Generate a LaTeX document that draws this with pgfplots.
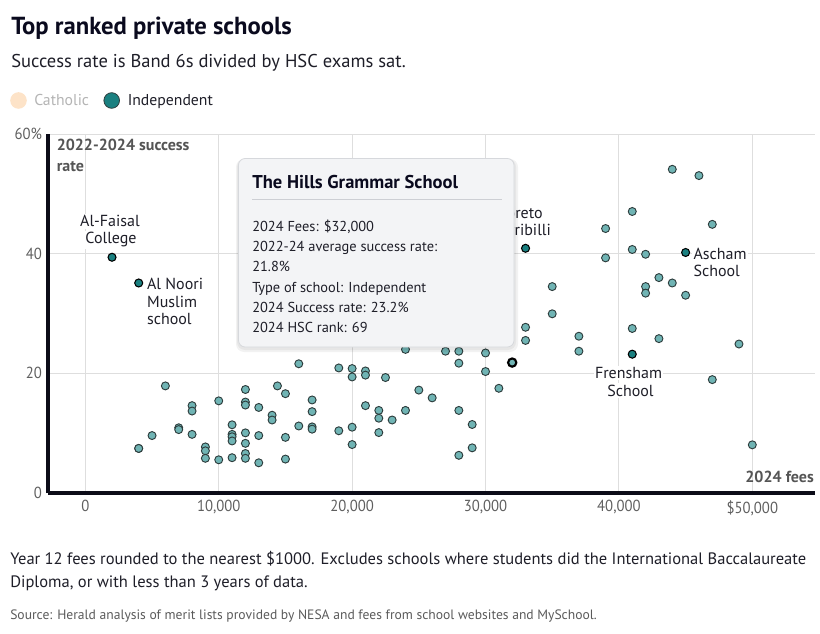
\documentclass[border=0pt]{standalone}
\usepackage{pgfplots}
\pgfplotsset{compat=1.18}
\usepackage{fontspec}
\setmainfont{PT Sans}
\newfontfamily\narrow[FakeStretch=0.92]{PT Sans}
\definecolor{ptfill}{RGB}{112,180,180}
\definecolor{ptedge}{RGB}{45,60,60}
\definecolor{namedfill}{RGB}{26,128,128}
\definecolor{gridc}{RGB}{222,222,222}
\definecolor{axisc}{RGB}{12,12,24}
\definecolor{tickc}{RGB}{85,85,85}
\definecolor{ticklab}{RGB}{95,95,95}
\definecolor{titlec}{RGB}{10,10,30}
\definecolor{peach}{RGB}{253,227,200}
\definecolor{tipfill}{RGB}{243,244,246}
\definecolor{tipedge}{RGB}{214,216,220}
\definecolor{textc}{RGB}{30,30,40}
\newcommand\fs[2]{\fontsize{#1}{#2}\selectfont}

\pgfplotstableread{
x y
6000 17.9
10000 15.4
12000 17.3
12000 15.2
12000 14.7
13000 14.3
14400 17.9
15000 16.6
8000 14.6
8000 13.7
14000 13.0
14000 12.2
11000 11.4
11000 9.8
11000 9.4
11000 8.7
7000 10.9
7000 10.6
8000 9.8
5000 9.6
4000 7.45
4000 7.45
9000 7.7
9000 7.05
9000 5.8
10000 5.55
11000 5.9
12000 10.05
12000 8.3
12000 6.6
12000 5.8
13000 9.6
13000 5.05
15000 9.3
15000 5.67
16000 21.6
17000 15.55
17000 13.6
16000 11.2
17000 11.05
17000 10.67
19000 20.9
20000 20.8
20000 19.4
21000 20.4
21000 19.7
22500 19.3
19000 10.4
20000 11.0
20000 8.1
21000 14.6
22000 13.8
22000 12.5
22000 10.1
23000 12.2
24000 13.8
24000 24.0
25000 17.2
26000 15.9
27000 23.7
28000 23.7
28000 21.7
28000 13.8
28000 6.3
29000 11.45
29000 7.55
30000 23.4
30000 20.3
31000 17.5
33000 27.7
33000 25.5
39000 44.2
39000 39.3
41000 47.05
41000 40.7
42000 39.9
44000 54.1
46000 53.05
47000 44.9
43000 36.0
44000 35.1
42000 34.5
42000 33.4
45000 33.05
35000 34.5
35000 29.95
41000 27.5
37000 26.2
37000 23.7
43000 25.8
49000 24.9
47000 18.95
50000 8.05
}\indep

\pgfplotstableread{
x y
2000 39.4
4000 35.1
33000 40.9
45000 40.2
41000 23.2
}\named

\pgfplotstableread{
x y
32000 21.8
}\hills

\begin{document}
\begin{tikzpicture}
\begin{scope}[x=0.75pt,y=-0.75pt]
\useasboundingbox (0,0) rectangle (820,634);
% title block
\node[anchor=base west,inner sep=0,text=titlec] at (11,35) {\fs{18.5}{22}\bfseries Top ranked private schools};
\node[anchor=base west,inner sep=0,text=textc] at (11,68) {\fs{13.9}{16}Success rate is Band 6s divided by HSC exams sat.};
\fill[peach] (18.5,100.5) circle (8.3);
\node[anchor=base west,inner sep=0,text={rgb,255:red,180;green,180;blue,180}] at (34,106) {\fs{11.8}{14}Catholic};
\filldraw[fill=namedfill,draw=ptedge,line width=0.6pt] (111.7,100.5) circle (7.8);
\node[anchor=base west,inner sep=0,text=textc] at (127.5,106) {\fs{11.8}{14}Independent};
\end{scope}

\begin{axis}[
  at={(36pt,-369.75pt)}, anchor=south west,
  scale only axis, width=575.25pt, height=269.25pt,
  xmin=-2800, xmax=54700, ymin=0, ymax=60,
  axis x line*=bottom, axis y line*=left,
  axis line style={-, line width=2.3pt, color=axisc},
  scaled x ticks=false, scaled y ticks=false,
  xtick={0,10000,20000,30000,40000,50000},
  xticklabels={0,{10,000},{20,000},{30,000},{40,000},{\$50,000}},
  ytick={0,20,40,60},
  yticklabels={0,20,40,60\%},
  grid=major, major grid style={color=gridc, line width=0.75pt},
  major tick length=0pt,
  /pgf/number format/assume math mode=true,
  tick label style={font=\narrow\fs{12}{14}, text=ticklab},
  xticklabel style={yshift=-2pt},
  yticklabel style={xshift=-1pt},
  clip=false,
]
\addplot[only marks, mark=*, mark size=3pt, mark options={fill=ptfill, draw=ptedge, line width=0.7pt}] table {\indep};
\addplot[only marks, mark=*, mark size=3pt, mark options={fill=namedfill, draw=black, line width=0.8pt}] table {\named};
\addplot[only marks, mark=*, mark size=3.1pt, mark options={fill=ptfill, draw=black, line width=1.6pt}] table {\hills};
\end{axis}

\begin{scope}[x=0.75pt,y=-0.75pt]
% axis titles
\node[anchor=base west,inner sep=0,text=tickc] at (56.5,151) {\fs{12}{14}\bfseries 2022-2024 success};
\node[anchor=base west,inner sep=0,text=tickc] at (56.5,172) {\fs{12}{14}\bfseries rate};
\node[anchor=base east,inner sep=0,text=tickc] at (814,482) {\fs{12}{14}\bfseries 2024 fees};

% point labels
\begin{scope}[every node/.style={inner sep=1pt, fill=white, text=textc, font=\fs{12}{14}}]
\node[anchor=base] at (110,227) {Al-Faisal};
\node[anchor=base] at (111,244) {College};
\node[anchor=base west] at (145.5,290) {Al Noori};
\node[anchor=base west] at (145.5,307.5) {Muslim};
\node[anchor=base west] at (145.5,325) {school};
\node[anchor=base] at (521,218.5) {Loreto};
\node[anchor=base] at (523,236) {Kirribilli};
\node[anchor=base west] at (692,260) {Ascham};
\node[anchor=base west] at (692,277) {School};
\node[anchor=base] at (628.5,378.5) {Frensham};
\node[anchor=base] at (630.5,396) {School};
\end{scope}

% tooltip
\fill[black,opacity=0.05,rounded corners=6] (236,159) rectangle (518,352);
\fill[black,opacity=0.05,rounded corners=6] (237,159) rectangle (516,350);
\filldraw[fill=tipfill,draw=tipedge,line width=0.6pt,rounded corners=5] (238.5,158.5) rectangle (514,347);
\node[anchor=base west,inner sep=0,text=titlec] at (252,188.5) {\fs{13.9}{16}\bfseries The Hills Grammar School};
\draw[draw={rgb,255:red,205;green,207;blue,212},line width=0.75pt] (252,199.5) -- (502,199.5);
\begin{scope}[every node/.style={anchor=base west, inner sep=0, text=textc, font=\fs{10.8}{14}}]
\node at (252,232) {2024 Fees: \$32,000};
\node at (252,252) {2022-24 average success rate:};
\node at (252,272) {21.8\%};
\node at (252,292) {Type of school: Independent};
\node at (252,312) {2024 Success rate: 23.2\%};
\node at (252,332) {2024 HSC rank: 69};
\end{scope}

% footnotes
\node[anchor=base west,inner sep=0,text=textc] at (10,564) {\fs{12.4}{14}Year 12 fees rounded to the nearest \$1000. Excludes schools where students did the International Baccalaureate};
\node[anchor=base west,inner sep=0,text=textc] at (10,587) {\fs{12.4}{14}Diploma, or with less than 3 years of data.};
\node[anchor=base west,inner sep=0,text={rgb,255:red,90;green,90;blue,90}] at (10,619) {\fs{10.2}{12}Source: Herald analysis of merit lists provided by NESA and fees from school websites and MySchool.};
\end{scope}
\end{tikzpicture}
\end{document}
